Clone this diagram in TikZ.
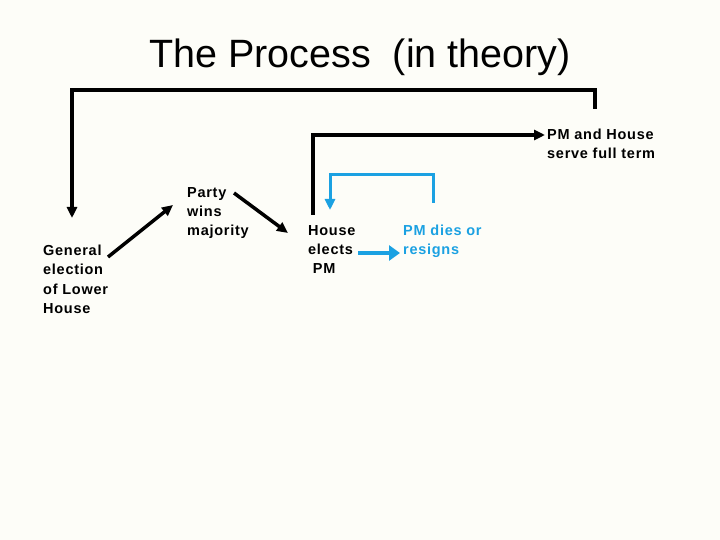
\documentclass[tikz,border=0pt]{standalone}
\usepackage{fontspec}
\setmainfont{Liberation Sans}
\usepackage{tikz}
\usetikzlibrary{calc,positioning,arrows.meta}
\usepackage{xcolor}
\definecolor{paper}{RGB}{253,253,248}
\definecolor{myblue}{RGB}{27,161,226}

\begin{document}
\begin{tikzpicture}[x=1pt, y=-1pt,
  label/.style={anchor=north west, inner sep=0pt, align=left,
    font=\fontsize{14.5}{19.2}\selectfont\bfseries\addfontfeature{LetterSpace=5}},
  flow/.style={line width=3.5pt, -{Triangle[length=11pt,width=10pt]}},
  loop/.style={flow, myblue, line width=3pt},
  ]
  % Page
  \fill[paper] (0,0) rectangle (720,540);
  \useasboundingbox (0,0) rectangle (720,540);

  % Title
  \node[inner sep=0pt] (title) at (360,57) {\fontsize{39.5}{40}\selectfont The Process\ \ (in theory)};

  % Stages
  \node[label] (gen) at (43,245) {General\\election\\of Lower\\House};
  \node[label] (party) at (187,187) {Party\\wins\\majority};
  \node[label] (elect) at (308,225) {House\\elects\\\ PM};
  \node[label, text=myblue] (dies) at (403,225) {PM dies or\\resigns};
  \node[label] (full) at (547,129) {PM and House\\serve full term};

  % Main sequence
  \draw[flow] ([shift={(65,12)}]gen.north west) -- ([shift={(-14,18)}]party.north west);
  \draw[flow] ([shift={(47,6)}]party.north west) -- ([shift={(-20,8)}]elect.north west);

  % Full term branch
  \draw[flow] ([shift={(5,-10)}]elect.north west) |- ([shift={(-2,6)}]full.north west);

  % Back to next election
  \coordinate (corner) at ([shift={(48,-39)}]full.north west);
  \draw[flow, line cap=rect] ([shift={(48,-22)}]full.north west) -- (corner)
    -| ([shift={(29,-27)}]gen.north west);

  % Replacement PM (blue loop)
  \draw[loop, line width=4.5pt, -{Triangle[length=11pt,width=15pt]}]
    ([shift={(50,28)}]elect.north west) -- ([shift={(-3,28)}]dies.north west);
  \draw[loop] ([shift={(30,-22)}]dies.north west) |- ([shift={(22,-50)}]elect.north west)
    -- ([shift={(22,-15)}]elect.north west);
\end{tikzpicture}
\end{document}
